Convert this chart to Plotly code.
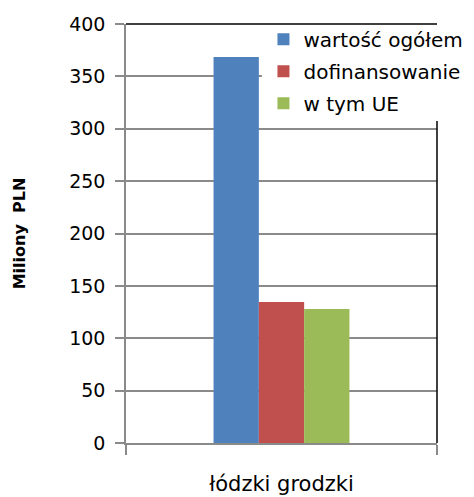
import plotly.graph_objects as go

categories = ["łódzki grodzki"]
series_names = ["wartość ogółem", "dofinansowanie", "w tym UE"]
series_values = [[368.5], [134.6], [128.0]]
series_colors = ["#4F81BD", "#C0504D", "#9BBB59"]
y_ticks = [0, 50, 100, 150, 200, 250, 300, 350, 400]

FONT = "DejaVu Sans"
AXIS_GRAY = "#8a8a8a"

fig = go.Figure()
for name, vals, col in zip(series_names, series_values, series_colors):
    fig.add_trace(go.Bar(x=categories, y=vals, name=name, legendgroup=name,
                         marker=dict(color=col, line=dict(width=0))))

fig.update_layout(
    width=474, height=497,
    margin=dict(l=126, r=37, t=24, b=54, autoexpand=False),
    paper_bgcolor="white", plot_bgcolor="white",
    font=dict(family=FONT, size=19, color="black"),
    barmode="group", bargap=0.563, bargroupgap=0,
    showlegend=True,
    legend=dict(x=0.442, y=1.01, xanchor="left", yanchor="top",
                bgcolor="rgba(0,0,0,0)", borderwidth=0,
                font=dict(family=FONT, size=20, color="black"),
                tracegroupgap=3, itemsizing="constant",
                traceorder="grouped"),
)

fig.update_yaxes(
    range=[0, 400], tickvals=y_ticks, automargin=False,
    showgrid=True, gridcolor=AXIS_GRAY, gridwidth=1.5,
    showline=True, linecolor=AXIS_GRAY, linewidth=1.5,
    ticks="outside", ticklen=9, tickcolor=AXIS_GRAY, tickwidth=1.5,
    ticklabelstandoff=6,
    tickfont=dict(family=FONT, size=19),
    zeroline=False,
    title=dict(text="<b>Miliony  PLN</b>", standoff=40,
               font=dict(family=FONT, size=16)),
)
fig.update_xaxes(
    automargin=False,
    showline=True, linecolor=AXIS_GRAY, linewidth=1.5,
    ticks="outside", ticklen=10, tickcolor=AXIS_GRAY, tickwidth=1.5,
    tickson="boundaries",
    ticklabelstandoff=21,
    tickfont=dict(family=FONT, size=21),
    showgrid=False,
)

# white panel behind the legend (hides gridlines and the right frame there)
fig.add_shape(type="rect", xref="paper", yref="paper",
              x0=0.437, x1=1.2, y0=0.7685, y1=0.995,
              fillcolor="white", line=dict(width=0), layer="above")
# black frame on the top and right of the plot area
fig.add_shape(type="line", xref="paper", yref="paper", x0=0, x1=1, y0=1, y1=1,
              line=dict(color="black", width=1.5), layer="above")
fig.add_shape(type="line", xref="paper", yref="paper", x0=1, x1=1, y0=0, y1=0.7685,
              line=dict(color="black", width=1.5), layer="above")

fig.write_html("out.html")
